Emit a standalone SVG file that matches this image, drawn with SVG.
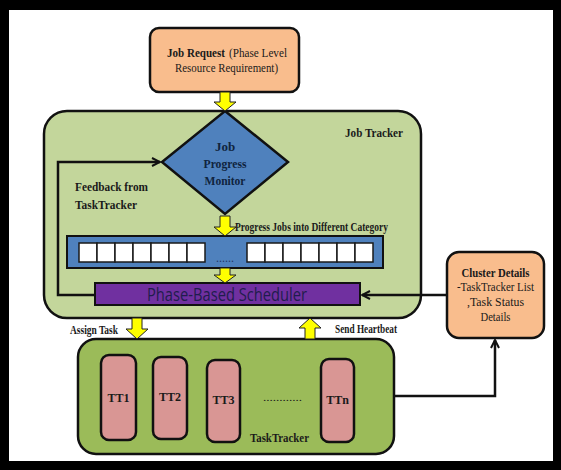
<svg xmlns="http://www.w3.org/2000/svg" width="561" height="470" viewBox="0 0 561 470">
<style>
.t{font-family:'Liberation Serif','Times New Roman',serif;fill:#1a1a1a}
.b{font-weight:bold}
.c{text-anchor:middle}
.blk{fill:#ffff00;stroke:#222;stroke-width:1}
.ln{fill:none;stroke:#111;stroke-width:2.5}
.cell{fill:#fff;stroke:#1a1a1a;stroke-width:1.5}
.tt{fill:#d99694;stroke:#111;stroke-width:2.5}
</style>
<defs>
<marker id="ah" viewBox="0 0 10 10" refX="9" refY="5" markerWidth="10" markerHeight="10" markerUnits="userSpaceOnUse" orient="auto">
<path d="M1,1 L9,5 L1,9" fill="none" stroke="#111" stroke-width="2"/>
</marker>
</defs>
<rect x="0" y="0" width="561" height="470" fill="#000"/>
<rect x="9" y="10" width="544" height="451" fill="#fff"/>

<g id="jobtracker">
<rect x="44" y="111" width="377" height="207" rx="23" fill="#c3d69b" stroke="#111" stroke-width="2.5"/>
<text class="t b" x="345" y="137" font-size="13" textLength="58" lengthAdjust="spacingAndGlyphs">Job Tracker</text>
</g>

<g id="jobrequest">
<rect x="150" y="28" width="149" height="64" rx="9" fill="#f9bd8d" stroke="#111" stroke-width="2.5"/>
<text class="t b" x="167" y="57" font-size="13" textLength="58" lengthAdjust="spacingAndGlyphs">Job Request</text>
<text class="t" x="229" y="57" font-size="13" textLength="58" lengthAdjust="spacingAndGlyphs">(Phase Level</text>
<text class="t" x="175" y="72" font-size="13" textLength="103" lengthAdjust="spacingAndGlyphs">Resource Requirement)</text>
</g>

<g id="monitor">
<polygon points="225,111 288,162 225,214 162,162" fill="#4f81bd" stroke="#111" stroke-width="2.5"/>
<text class="t b c" x="225" y="151" font-size="13" style="fill:#0f243e">Job</text>
<text class="t b c" x="225" y="168" font-size="13" textLength="43" lengthAdjust="spacingAndGlyphs" style="fill:#0f243e">Progress</text>
<text class="t b c" x="225" y="185" font-size="13" textLength="41" lengthAdjust="spacingAndGlyphs" style="fill:#0f243e">Monitor</text>
</g>

<g id="feedback-label">
<text class="t b" x="75" y="191" font-size="13" textLength="73" lengthAdjust="spacingAndGlyphs">Feedback from</text>
<text class="t b" x="75" y="209" font-size="13" textLength="62" lengthAdjust="spacingAndGlyphs">TaskTracker</text>
</g>

<g id="queue">
<rect x="67" y="236" width="316" height="32" fill="#4f81bd" stroke="#111" stroke-width="2"/>
<rect class="cell" x="79" y="243" width="18" height="19"/>
<rect class="cell" x="97" y="243" width="18" height="19"/>
<rect class="cell" x="115" y="243" width="18" height="19"/>
<rect class="cell" x="133" y="243" width="18" height="19"/>
<rect class="cell" x="151" y="243" width="18" height="19"/>
<rect class="cell" x="169" y="243" width="18" height="19"/>
<rect class="cell" x="187" y="243" width="18" height="19"/>
<text class="t c" x="225" y="262" font-size="12" style="fill:#1f3864">......</text>
<rect class="cell" x="247" y="243" width="18" height="19"/>
<rect class="cell" x="265" y="243" width="18" height="19"/>
<rect class="cell" x="283" y="243" width="18" height="19"/>
<rect class="cell" x="301" y="243" width="18" height="19"/>
<rect class="cell" x="319" y="243" width="18" height="19"/>
<rect class="cell" x="337" y="243" width="18" height="19"/>
<rect class="cell" x="355" y="243" width="18" height="19"/>
<text class="t b" x="235" y="231" font-size="12" textLength="153" lengthAdjust="spacingAndGlyphs">Progress Jobs into Different Category</text>
</g>

<g id="scheduler">
<rect x="95" y="283" width="265" height="22" fill="#7030a0" stroke="#111" stroke-width="2"/>
<text x="227" y="301" font-family="'Open Sans','Noto Sans',sans-serif" font-size="18" text-anchor="middle" fill="#1f1d4d" textLength="160" lengthAdjust="spacingAndGlyphs">Phase-Based Scheduler</text>
</g>

<g id="cluster">
<rect x="447" y="252" width="97" height="86" rx="12" fill="#f9bd8d" stroke="#111" stroke-width="2.5"/>
<text class="t b c" x="495.5" y="277" font-size="13" textLength="68" lengthAdjust="spacingAndGlyphs">Cluster Details</text>
<text class="t c" x="495.5" y="291" font-size="13" textLength="77" lengthAdjust="spacingAndGlyphs">-TaskTracker List</text>
<text class="t c" x="495.5" y="306" font-size="13" textLength="57" lengthAdjust="spacingAndGlyphs">,Task Status</text>
<text class="t c" x="495.5" y="321" font-size="13" textLength="30" lengthAdjust="spacingAndGlyphs">Details</text>
</g>

<g id="tasktracker">
<rect x="78" y="339" width="316" height="115" rx="18" fill="#9bbb59" stroke="#111" stroke-width="2.5"/>
<text class="t b" x="250" y="442" font-size="13" textLength="59" lengthAdjust="spacingAndGlyphs">TaskTracker</text>
<text class="t" x="263" y="401" font-size="11" textLength="39" lengthAdjust="spacingAndGlyphs">............</text>
</g>
<g id="tt1"><rect class="tt" x="101" y="355" width="35" height="85" rx="8"/><text class="t b c" x="118.5" y="402" font-size="12">TT1</text></g>
<g id="tt2"><rect class="tt" x="153" y="357" width="34" height="82" rx="8"/><text class="t b c" x="170" y="401" font-size="12">TT2</text></g>
<g id="tt3"><rect class="tt" x="207" y="360" width="33" height="82" rx="8"/><text class="t b c" x="223.5" y="404" font-size="12">TT3</text></g>
<g id="ttn"><rect class="tt" x="321" y="359" width="33" height="83" rx="8"/><text class="t b c" x="337.5" y="404" font-size="12">TTn</text></g>

<g id="connectors">
<path class="blk" d="M220,92 H230 V102 H236 L225,111 L214,102 H220 Z"/>
<path class="blk" d="M220,216 H230 V227 H236 L225,236 L214,227 H220 Z"/>
<path class="blk" d="M220,268 H230 V275 H236 L225,283 L214,275 H220 Z"/>
<path class="blk" d="M132,318 H142 V329 H148 L137,339 L126,329 H132 Z"/>
<path class="blk" d="M305,339 H315 V328 H321 L310,318 L299,328 H305 Z"/>
<path class="ln" d="M95,295 H58 V162 H160" marker-end="url(#ah)"/>
<path class="ln" d="M447,295 H362" marker-end="url(#ah)"/>
<path class="ln" d="M394,396 H495 V340" marker-end="url(#ah)"/>
<text class="t b" x="70" y="334" font-size="12" textLength="48" lengthAdjust="spacingAndGlyphs">Assign Task</text>
<text class="t b" x="335" y="333" font-size="12" textLength="62" lengthAdjust="spacingAndGlyphs">Send Heartbeat</text>
</g>
</svg>
